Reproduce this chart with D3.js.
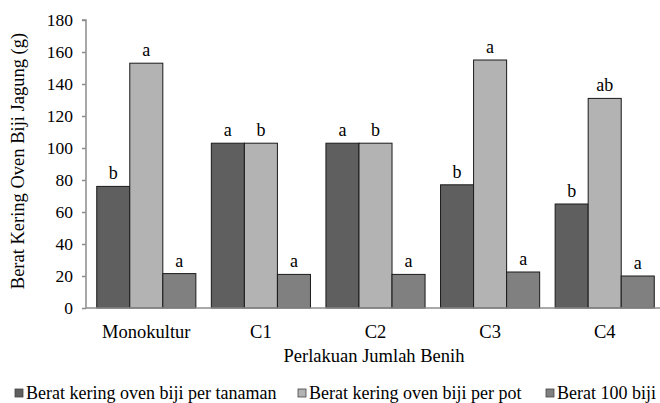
<!DOCTYPE html>
<html>
<head>
<meta charset="utf-8">
<script src="https://cdn.jsdelivr.net/npm/d3@7"></script>
<style>
  html, body { margin: 0; padding: 0; background: #fff; }
</style>
</head>
<body>
<svg id="chart" width="660" height="403"></svg>
<script>
// Treatments (seed count per planting)
const categories = ["Monokultur", "C1", "C2", "C3", "C4"];
const seriesNames = [
  "Berat kering oven biji per tanaman",
  "Berat kering oven biji per pot",
  "Berat 100 biji"
];
// Dry seed weight (g)
const perPlant = [76, 103, 103, 77, 65];
const perPot = [153, 103, 103, 155, 131];
const per100 = [21.5, 21, 21, 22.5, 20];
// Significance letters (DMRT)
const lettersPerPlant = ["b", "a", "a", "b", "b"];
const lettersPerPot = ["a", "b", "b", "a", "ab"];
const lettersPer100 = ["a", "a", "a", "a", "a"];
const yTicks = [0, 20, 40, 60, 80, 100, 120, 140, 160, 180];

const colors = ["#5f5f5f", "#b3b3b3", "#808080"];
const seriesValues = [perPlant, perPot, per100];
const seriesLetters = [lettersPerPlant, lettersPerPot, lettersPer100];
const FONT = "Liberation Serif";

const svg = d3.select("#chart");
const axisX = 86, plotLeft = 89, plotRight = 662, plotTop = 20, plotBottom = 308;

const x = d3.scaleBand().domain(categories).range([plotLeft, plotRight]).paddingInner(0.135).paddingOuter(0.0675);
const xs = d3.scaleBand().domain(d3.range(3)).range([0, x.bandwidth()]);
const y = d3.scaleLinear().domain([0, 180]).range([plotBottom, plotTop]);

// Y axis
const yAxis = svg.append("g").attr("transform", `translate(${axisX},0)`)
  .call(d3.axisLeft(y).tickValues(yTicks).tickSize(4).tickPadding(9));
yAxis.select(".domain").attr("stroke", "#8c8c8c").attr("stroke-width", 1.5).attr("d", `M-4,${plotTop}H0V${plotBottom}`);
yAxis.selectAll(".tick line").attr("stroke", "#8c8c8c").attr("stroke-width", 1.5);
yAxis.selectAll(".tick text").attr("font-size", 17.5).attr("dy", "0.34em");

// Bars
const groups = svg.append("g").selectAll("g").data(seriesValues).join("g")
  .attr("fill", (d, i) => colors[i]);
groups.each(function(vals, si) {
  d3.select(this).selectAll("rect").data(vals).join("rect")
    .attr("x", (d, ci) => x(categories[ci]) + xs(si))
    .attr("y", d => y(d))
    .attr("width", xs.bandwidth())
    .attr("height", d => y(0) - y(d))
    .attr("stroke", "#1a1a1a")
    .attr("stroke-width", 1);
  d3.select(this).selectAll("text").data(vals).join("text")
    .attr("x", (d, ci) => x(categories[ci]) + xs(si) + xs.bandwidth() / 2)
    .attr("y", d => y(d) - 7)
    .attr("text-anchor", "middle")
    .attr("font-size", 18)
    .text((d, ci) => seriesLetters[si][ci]);
});

// X axis line
svg.append("line").attr("x1", axisX).attr("x2", 660).attr("y1", plotBottom).attr("y2", plotBottom)
  .attr("stroke", "#8c8c8c").attr("stroke-width", 1.5);

// Category labels
svg.append("g").selectAll("text").data(categories).join("text")
  .attr("x", d => x(d) + x.bandwidth() / 2)
  .attr("y", 338)
  .attr("text-anchor", "middle")
  .attr("font-size", 18.5)
  .text(d => d);

// Axis titles
svg.append("text").attr("x", 374).attr("y", 362).attr("text-anchor", "middle")
  .attr("font-size", 18.5).text("Perlakuan Jumlah Benih");
svg.append("text").attr("transform", "translate(24,161) rotate(-90)").attr("text-anchor", "middle")
  .attr("font-size", 18.5).text("Berat Kering Oven Biji Jagung (g)");

// Legend
const legendX = [15, 298, 546];
const legend = svg.append("g").selectAll("g").data(seriesNames).join("g")
  .attr("transform", (d, i) => `translate(${legendX[i]},399)`);
legend.append("rect").attr("x", 0).attr("y", -10).attr("width", 8).attr("height", 8)
  .attr("fill", (d, i) => colors[i]).attr("stroke", "#444").attr("stroke-width", 0.8);
legend.append("text").attr("x", 11).attr("y", 0).attr("font-size", 18).text(d => d);

// Serif face on every label
svg.selectAll("text").style("font-family", FONT).attr("fill", "#000");
</script>
</body>
</html>
